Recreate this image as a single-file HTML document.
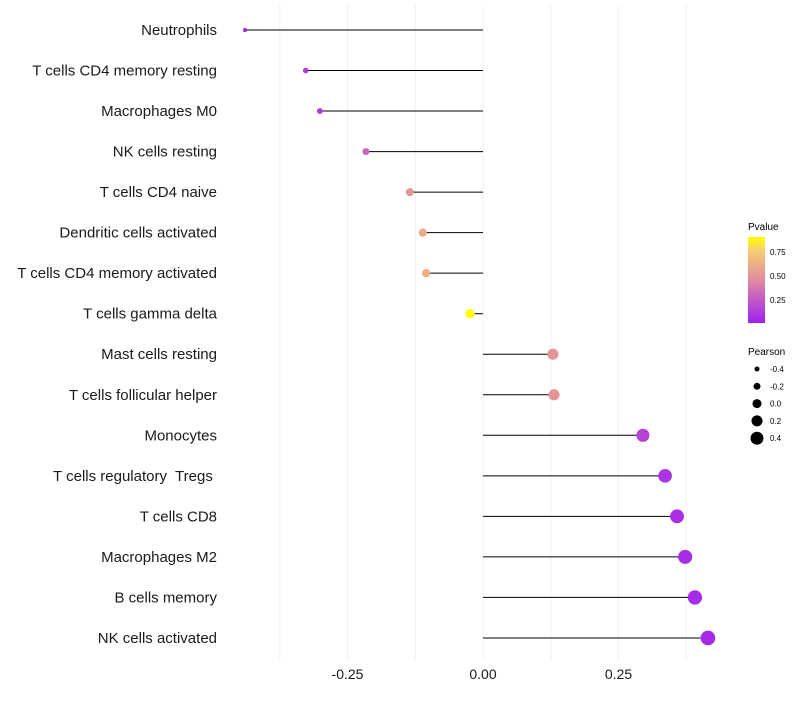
<!DOCTYPE html>
<html><head><meta charset="utf-8"><style>
body{margin:0;background:#fff;font-family:"Liberation Sans",sans-serif}
svg text{font-family:"Liberation Sans",sans-serif;white-space:pre}
</style></head><body>
<svg id="c" width="800" height="700">
<defs><linearGradient id="g" x1="0" y1="1" x2="0" y2="0">
<stop offset="0" stop-color="#a020f0"/><stop offset="0.5" stop-color="#e08aa0"/><stop offset="0.85" stop-color="#f8d070"/><stop offset="1" stop-color="#ffff00"/></linearGradient></defs>
<g id="grid"></g><g id="marks"></g><g id="labels"></g>
<g>
<text x="748" y="230" font-size="10">Pvalue</text>
<rect x="748" y="237" width="17" height="86" fill="url(#g)"/>
<text x="770" y="255" font-size="8">0.75</text><text x="770" y="279" font-size="8">0.50</text><text x="770" y="303" font-size="8">0.25</text>
</g>
<g id="leg2"><text x="748" y="355" font-size="10">Pearson</text></g>
</svg>
<script>
const categories=["Neutrophils","T cells CD4 memory resting","Macrophages M0","NK cells resting","T cells CD4 naive","Dendritic cells activated","T cells CD4 memory activated","T cells gamma delta","Mast cells resting","T cells follicular helper","Monocytes","T cells regulatory  Tregs ","T cells CD8","Macrophages M2","B cells memory","NK cells activated"];
const pearson=[-0.439,-0.327,-0.301,-0.216,-0.135,-0.111,-0.105,-0.024,0.129,0.131,0.295,0.336,0.358,0.373,0.391,0.415];
const pvalues=[0.05,0.12,0.12,0.3,0.5,0.6,0.62,0.92,0.5,0.5,0.15,0.08,0.06,0.05,0.05,0.04];
const xTicks=[-0.25,0,0.25];
const xTickLabels=["-0.25","0.00","0.25"];
const sizeLegend=[-0.4,-0.2,0.0,0.2,0.4];
const NS="http://www.w3.org/2000/svg";
const x=v=>483+v*542, y=i=>30+i*40.53, r=v=>4.8+6*v;
const stops=[[0,[160,32,240]],[0.5,[224,138,160]],[0.85,[248,208,112]],[1,[255,255,0]]];
function col(p){p=Math.max(0,Math.min(1,p/0.9));
for(let k=1;k<stops.length;k++){if(p<=stops[k][0]){const t=(p-stops[k-1][0])/(stops[k][0]-stops[k-1][0]);
const c=stops[k-1][1].map((a,j)=>Math.round(a+(stops[k][1][j]-a)*t));return "rgb("+c.join(",")+")";}}
return "rgb(255,255,0)";}
function el(t,a,p){const e=document.createElementNS(NS,t);for(const k in a)e.setAttribute(k,a[k]);document.getElementById(p).appendChild(e);return e}
const grid=[-0.375,-0.25,-0.125,0,0.125,0.25,0.375];
grid.forEach(v=>{const l=el("line",{x1:x(v),x2:x(v),y1:5,y2:660,stroke:"#f0f0f0","stroke-width":1},"grid");

});
categories.forEach((c,i)=>{const t=el("text",{x:217,y:y(i)+5,"text-anchor":"end","font-size":15,fill:"#1a1a1a"},"labels");t.textContent=c;


const l=el("line",{x1:x(0),x2:x(pearson[i]),y1:y(i),y2:y(i),stroke:"#000","stroke-width":1},"marks");


const d=el("circle",{cx:x(pearson[i]),cy:y(i),r:r(pearson[i]),fill:col(pvalues[i])},"marks");

});
xTicks.forEach((v,i)=>{const t=el("text",{x:x(v),y:679,"text-anchor":"middle","font-size":14,fill:"#1a1a1a"},"labels");t.textContent=xTickLabels[i];

});
sizeLegend.forEach((v,i)=>{const cy=369+i*17.3;const d=el("circle",{cx:757,cy:cy,r:4.5+5*v,fill:"#000"},"leg2");


const t=el("text",{x:770,y:cy+3,"font-size":8},"leg2");t.textContent=v.toFixed(1);

});
</script>
</body></html>
